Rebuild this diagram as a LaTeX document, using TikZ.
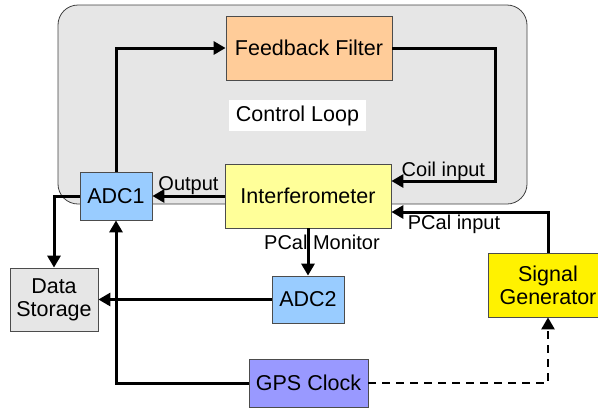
\documentclass[tikz,border=0pt]{standalone}
\usepackage{fontspec}
\setmainfont{Liberation Sans}
\usetikzlibrary{arrows.meta,positioning}

\definecolor{peach}{HTML}{FFCC99}
\definecolor{paleyellow}{HTML}{FFFF99}
\definecolor{adcblue}{HTML}{99CCFF}
\definecolor{storegray}{HTML}{E6E6E6}
\definecolor{gpsblue}{HTML}{9999FF}

\begin{document}
\begin{tikzpicture}[
    x=1pt, y=-1pt,
    >={Triangle[length=12pt,width=13pt]},
    block/.style={draw=black!70, line width=0.8pt, inner sep=0pt, align=center,
        font=\fontsize{21.5}{23}\selectfont},
    lbl/.style={font=\fontsize{20}{22}\selectfont, inner sep=1pt},
    conn/.style={line width=3pt}
]
    \useasboundingbox (0,0) rectangle (598,408);

    % control loop area
    \node[draw=black!75, line width=0.8pt, fill=storegray, rounded corners=20pt,
        minimum width=469pt, minimum height=199pt] (loop) at (292.5,104.5) {};
    \node[fill=white, minimum width=137pt, minimum height=31pt,
        font=\fontsize{21.5}{23}\selectfont] (looplbl) at (297.5,115.5) {Control Loop};

    \node[block, fill=peach, minimum width=166pt, minimum height=64pt] (filter) at (309,48) {Feedback Filter};
    \node[block, fill=paleyellow, minimum width=166pt, minimum height=64pt] (interf) at (308,196) {Interferometer};
    \node[block, fill=adcblue, minimum width=72pt, minimum height=48pt] (adc1) at (116,196) {ADC1};
    \node[block, fill=adcblue, minimum width=72pt, minimum height=47pt] (adc2) at (308,299.5) {ADC2};
    \node[block, fill=storegray, minimum width=88pt, minimum height=63pt] (store) at (54,299.5) {Data\\Storage};
    \node[block, fill=yellow, minimum width=120pt, minimum height=64pt] (siggen) at (548,285) {Signal\\Generator};
    \node[block, fill=gpsblue, minimum width=119pt, minimum height=48pt] (gps) at (308.5,383) {GPS Clock};

    \draw[->, conn] (adc1.north) |- (filter.west);
    \draw[->, conn] (filter.east) -- ++(103,0) |- node[lbl, pos=0.75, above, yshift=-2pt] {Coil input} ([yshift=15pt]interf.east);
    \draw[->, conn] (interf.west) -- node[lbl, above, yshift=-1pt] {Output} (adc1.east);
    \draw[->, conn] (adc1.west) -| (store.north);
    \draw[->, conn] (siggen.north) |- node[lbl, pos=0.8, below, yshift=-1pt] {PCal input} ([yshift=-16pt]interf.east);
    \draw[->, conn] (interf.south) -- node[lbl, pos=0.3, xshift=14pt] {PCal Monitor} (adc2.north);
    \draw[->, conn] (adc2.west) -- (store.east);
    \draw[->, conn] (gps.west) -| (adc1.south);
    \draw[->, conn, line width=2.5pt, dash pattern=on 8pt off 6pt] (gps.east) -| (siggen.south);
\end{tikzpicture}
\end{document}
